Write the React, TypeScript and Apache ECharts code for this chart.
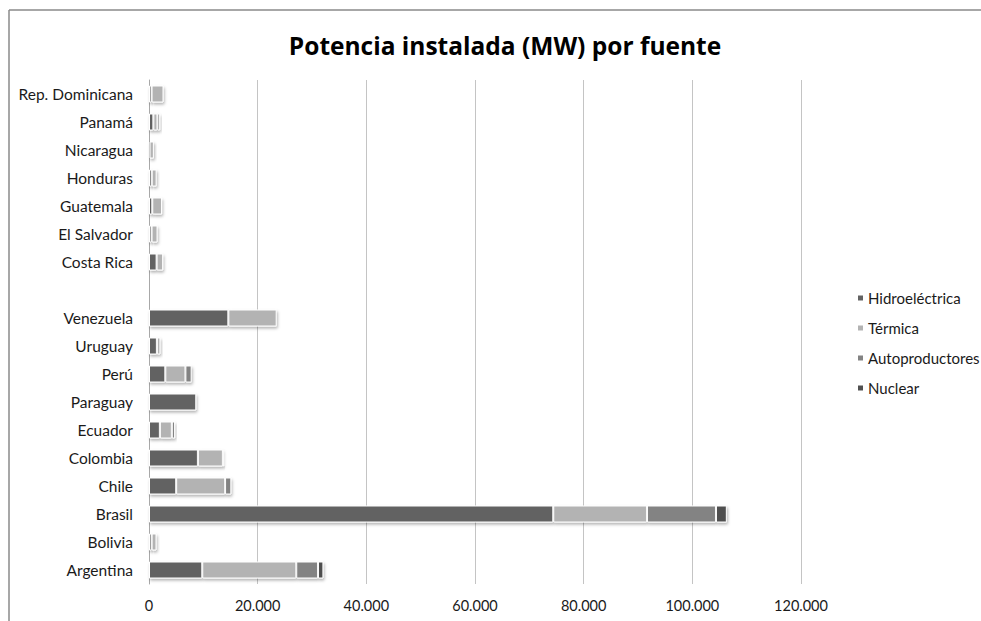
import React, { useEffect, useRef } from "react";
import * as echarts from "echarts";

const categories = [
  "Argentina", "Bolivia", "Brasil", "Chile", "Colombia", "Ecuador", "Paraguay", "Perú", "Uruguay", "Venezuela",
  "", "Costa Rica", "El Salvador", "Guatemala", "Honduras", "Nicaragua", "Panamá", "Rep. Dominicana",
];
const hidroelectrica = [9800, 480, 74400, 5000, 9000, 2000, 8700, 3000, 1450, 14600, 0, 1400, 470, 600, 500, 100, 800, 470];
const termica = [17300, 900, 17250, 9000, 4600, 2200, 0, 3700, 650, 8900, 0, 1200, 1100, 1800, 900, 800, 750, 2200];
const autoproductores = [4000, 0, 12700, 1150, 300, 600, 0, 1150, 0, 0, 0, 0, 0, 0, 0, 0, 500, 0];
const nuclear = [1000, 0, 2000, 0, 0, 0, 0, 0, 0, 0, 0, 0, 0, 0, 0, 0, 0, 0];
const xTicks = [0, 20000, 40000, 60000, 80000, 100000, 120000];

const seriesNames = ["Hidroeléctrica", "Térmica", "Autoproductores", "Nuclear"];
const seriesColors = ["#626262", "#b3b3b3", "#838383", "#505050"];

const fmt = (v: number) => v.toString().replace(/\B(?=(\d{3})+(?!\d))/g, ".");

export default function App() {
  const ref = useRef<HTMLDivElement>(null);
  useEffect(() => {
    document.body.style.margin = "0";
    if (!ref.current) return;
    const chart = echarts.init(ref.current, undefined, { renderer: "svg" });
    const all = [hidroelectrica, termica, autoproductores, nuclear];
    chart.setOption({
      animation: false,
      backgroundColor: "#ffffff",
      title: {
        text: "Potencia instalada (MW) por fuente",
        left: 500,
        top: 28,
        textAlign: "center",
        textStyle: { fontFamily: "Open Sans", fontWeight: "bold", fontSize: 24.5, color: "#000000" },
      },
      legend: {
        orient: "vertical",
        left: 856,
        top: 290,
        padding: 0,
        itemWidth: 7,
        itemHeight: 7,
        itemGap: 14,
        icon: "rect",
        data: seriesNames,
        textStyle: { fontFamily: "Lato", fontSize: 15, color: "#1a1a1a", lineHeight: 16, padding: [0, 0, 0, -1] },
      },
      grid: { left: 149, right: 180, top: 80, bottom: 37, containLabel: false },
      xAxis: {
        type: "value",
        min: 0,
        max: 120000,
        interval: 20000,
        axisLine: { show: false },
        axisTick: { show: false },
        splitLine: { show: true, lineStyle: { color: "#c4c4c4", width: 1 } },
        axisLabel: {
          fontFamily: "Lato",
          fontSize: 14.5,
          color: "#1a1a1a",
          margin: 14,
          formatter: (v: number) => (xTicks.includes(v) ? fmt(v) : ""),
        },
      },
      yAxis: {
        type: "category",
        data: categories,
        axisLine: { show: true, lineStyle: { color: "#a8a8a8", width: 1 } },
        axisTick: { show: false },
        axisLabel: { fontFamily: "Lato", fontSize: 15.5, color: "#1a1a1a", margin: 16 },
      },
      graphic: [
        { type: "line", shape: { x1: 9, y1: 10, x2: 981, y2: 10 }, style: { stroke: "#8a8a8a", lineWidth: 1.5 } },
        { type: "line", shape: { x1: 9, y1: 10, x2: 9, y2: 621 }, style: { stroke: "#8a8a8a", lineWidth: 1.5 } },
      ],
      series: seriesNames.map((name, i) => ({
        name,
        type: "bar",
        stack: "total",
        barWidth: 17,
        data: all[i].map((v) => (v === 0 ? null : v)),
        itemStyle: {
          color: seriesColors[i],
          borderColor: "#ffffff",
          borderWidth: 1,
          shadowColor: "rgba(0,0,0,0.3)",
          shadowBlur: 3,
          shadowOffsetX: 1,
          shadowOffsetY: 2,
        },
      })),
    });
    return () => chart.dispose();
  }, []);
  return <div ref={ref} style={{ width: 981, height: 621 }} />;
}
